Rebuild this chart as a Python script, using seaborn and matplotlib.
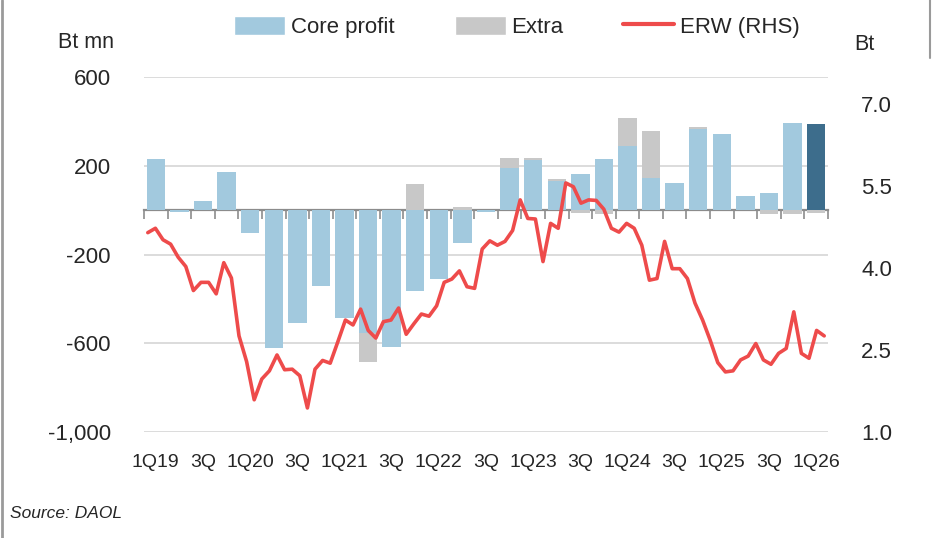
import matplotlib
matplotlib.use("Agg")
import matplotlib.pyplot as plt
import seaborn as sns
import numpy as np
from matplotlib.lines import Line2D
from matplotlib.patches import Patch
from matplotlib.ticker import FuncFormatter

# ---------------- data ----------------
quarters = ["1Q19", "2Q19", "3Q19", "4Q19", "1Q20", "2Q20", "3Q20", "4Q20",
            "1Q21", "2Q21", "3Q21", "4Q21", "1Q22", "2Q22", "3Q22", "4Q22",
            "1Q23", "2Q23", "3Q23", "4Q23", "1Q24", "2Q24", "3Q24", "4Q24",
            "1Q25", "2Q25", "3Q25", "4Q25", "1Q26"]
tick_labels = ["1Q19", "3Q", "1Q20", "3Q", "1Q21", "3Q", "1Q22", "3Q",
               "1Q23", "3Q", "1Q24", "3Q", "1Q25", "3Q", "1Q26"]
core_profit = [230, -8, 40, 173, -101, -620, -510, -340, -487, -554, -618, -363,
               -312, -148, -8, 190, 224, 130, 163, 231, 287, 145, 124, 367,
               343, 63, 78, 391, 388]
extra = [0, 0, 0, 0, 0, 0, 0, 0, 0, -131, 0, 120, 0, 12, 0, 47, 13, 12, -15,
         -18, 128, 213, 0, 8, 0, 0, -19, -17, -12]
erw_monthly = [4.65, 4.73, 4.52, 4.44, 4.20, 4.03, 3.59, 3.74, 3.74, 3.53,
               4.10, 3.82, 2.76, 2.29, 1.59, 1.97, 2.12, 2.41, 2.14, 2.15,
               2.03, 1.44, 2.15, 2.31, 2.26, 2.65, 3.05, 2.96, 3.25, 2.86,
               2.72, 3.02, 3.05, 3.27, 2.79, 2.98, 3.16, 3.12, 3.31, 3.74,
               3.80, 3.95, 3.66, 3.63, 4.35, 4.50, 4.42, 4.49, 4.69, 5.25,
               4.91, 4.90, 4.12, 4.82, 4.73, 5.56, 5.49, 5.19, 5.25, 5.24,
               5.08, 4.73, 4.66, 4.82, 4.73, 4.42, 3.78, 3.81, 4.49, 3.99,
               3.99, 3.81, 3.36, 3.05, 2.68, 2.27, 2.10, 2.12, 2.32, 2.39,
               2.62, 2.32, 2.24, 2.44, 2.53, 3.20, 2.44, 2.35, 2.86, 2.76]

# ---------------- style ----------------
sns.set_style("white")
plt.rcParams["font.family"] = ["Liberation Sans", "DejaVu Sans"]
TXT = "#262626"
LIGHT = "#a2c9de"
DARK = "#3d6d8c"
GREY = "#c8c8c8"
RED = "#ee4b4b"

fig = plt.figure(figsize=(9.38, 5.38), dpi=100)
ax = fig.add_axes([144 / 938, 1 - 432 / 538, (828 - 144) / 938, (432 - 77) / 538])

n = len(quarters)
core = np.array(core_profit, dtype=float)
ext = np.array(extra, dtype=float)
# stacked end of the "Extra" segment (diverging stacking like Excel)
same_sign = np.sign(core) == np.sign(ext)
grey_top = np.where(same_sign, core + ext, ext)
grey_top = np.where(ext == 0, np.nan, grey_top)

sns.barplot(x=quarters, y=grey_top, color=GREY, width=0.78, ax=ax,
            saturation=1, zorder=2, linewidth=0)
palette = [LIGHT] * (n - 1) + [DARK]
sns.barplot(x=quarters, y=core, hue=quarters, palette=palette, legend=False,
            width=0.78, ax=ax, saturation=1, zorder=3, linewidth=0)

ax.set_xlim(-0.5, n - 0.5)
ax.set_ylim(-1000, 600)
ax.set_yticks([-1000, -600, -200, 200, 600])
ax.yaxis.set_major_formatter(FuncFormatter(lambda v, p: f"{int(v):,}"))
ax.grid(axis="y", color="#d9d9d9", lw=1.3)
ax.grid(axis="x", visible=False)
ax.set_axisbelow(True)
for s in ax.spines.values():
    s.set_visible(False)
ax.set_xticks(np.arange(0, n, 2))
ax.set_xticklabels(tick_labels)
ax.tick_params(axis="x", length=0, pad=16, labelsize=14, labelcolor=TXT)
ax.tick_params(axis="y", length=0, pad=24, labelsize=16, labelcolor=TXT)
ax.set_xlabel("")
ax.set_ylabel("")

# zero line with category boundary ticks
sec = ax.secondary_xaxis(0, transform=ax.transData)
sec.set_xticks(np.arange(-0.5, n, 1.0))
sec.set_xticklabels([])
sec.tick_params(axis="x", length=6.3, width=1.2, color="#8c8c8c", direction="out")
sec.spines["bottom"].set_color("#8c8c8c")
sec.spines["bottom"].set_linewidth(1.6)
for k in ["top", "left", "right"]:
    sec.spines[k].set_visible(False)

# ERW line on secondary axis (monthly points spread over the category span)
ax2 = ax.twinx()
m = len(erw_monthly)
xpos = -0.5 + (np.arange(m) + 0.5) * n / m
sns.lineplot(x=xpos, y=erw_monthly, ax=ax2, color=RED, lw=2.6, zorder=5)
ax2.set_xlim(-0.5, n - 0.5)
ax2.set_ylim(1.0, 7.5)
ax2.set_yticks([1.0, 2.5, 4.0, 5.5, 7.0])
ax2.yaxis.set_major_formatter(FuncFormatter(lambda v, p: f"{v:.1f}"))
ax2.tick_params(axis="y", length=0, pad=24, labelsize=16, labelcolor=TXT)
ax2.grid(False)
ax2.set_ylabel("")
for s in ax2.spines.values():
    s.set_visible(False)

# legend
handles = [Patch(facecolor=LIGHT), Patch(facecolor=GREY),
           Line2D([0], [0], color=RED, lw=3)]
fig.legend(handles, ["Core profit", "Extra", "ERW (RHS)"], ncol=3,
           loc="center", bbox_to_anchor=(517 / 938, 1 - 27 / 538),
           frameon=False, fontsize=16, handlelength=2.3, handleheight=0.95,
           handletextpad=0.25, columnspacing=2.7, labelcolor=TXT)

fig.text(86 / 938, 1 - 42 / 538, "Bt mn", ha="center", va="center",
         fontsize=15.5, color=TXT)
fig.text(864 / 938, 1 - 44 / 538, "Bt", ha="center", va="center",
         fontsize=15.5, color=TXT)
fig.text(10 / 938, 1 - 513 / 538, "Source: DAOL", ha="left", va="center",
         fontsize=12.5, style="italic", color=TXT)

# frame fragments
fig.add_artist(Line2D([1.5 / 938, 1.5 / 938], [0, 1], color="#9a9a9a", lw=2))
fig.add_artist(Line2D([930 / 938, 930 / 938], [1, 1 - 58 / 538],
                      color="#9a9a9a", lw=1.5))

fig.savefig("out.png", dpi=100)
